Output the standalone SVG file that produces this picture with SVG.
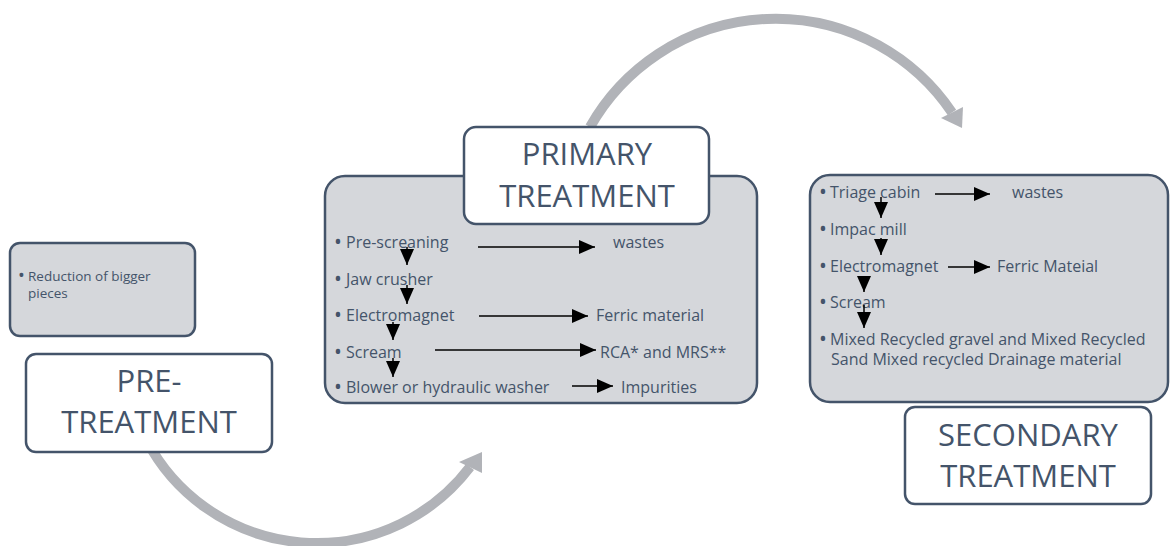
<svg xmlns="http://www.w3.org/2000/svg" width="1170" height="546" viewBox="0 0 1170 546">
<style>
.graybox{fill:#d5d7db;stroke:#44546a;stroke-width:2.5}
.titlebox{fill:#ffffff;stroke:#44546a;stroke-width:2.5}
.title{font-family:"Open Sans","Liberation Sans",sans-serif;font-size:31px;fill:#44546a;text-anchor:middle}
.body{font-family:"Open Sans","Liberation Sans",sans-serif;font-size:16px;fill:#44546a}
.small{font-family:"Open Sans","Liberation Sans",sans-serif;font-size:13.5px;fill:#44546a}
.b{font-size:21px}
.bs{font-size:18px}
.arc{fill:none;stroke:#b1b3b8;stroke-width:10}
.arrowhead{fill:#b1b3b8}
.flow{stroke:#000;stroke-width:1.5;fill:none;marker-end:url(#tri)}
</style>
<defs>
<marker id="tri" viewBox="0 0 16 14" refX="16" refY="7" markerWidth="16" markerHeight="14" markerUnits="userSpaceOnUse" orient="auto">
<path d="M0,0 L16,7 L0,14 z" fill="#000"/>
</marker>
</defs>
<g id="big-arrows">
<path class="arc" d="M146.4,440 A192.4,192.4 0 0 0 470,467"/>
<polygon class="arrowhead" points="482,452 459,462 482,473"/>
<path class="arc" d="M590,127 A213,213 0 0 1 952,112.5"/>
<polygon class="arrowhead" points="962,128 941,118 963,107"/>
</g>
<g id="pre-details">
<rect class="graybox" x="10" y="243" width="185" height="93" rx="10"/>
<text class="small" y="281"><tspan class="bs" x="18" dy="1">•</tspan><tspan x="28" dy="-1">Reduction of bigger</tspan><tspan x="28" dy="17">pieces</tspan></text>
</g>
<g id="pre-title">
<rect class="titlebox" x="26" y="354" width="246" height="98" rx="10"/>
<text class="title" x="149" y="392">PRE-</text>
<text class="title" x="149" y="433">TREATMENT</text>
</g>
<g id="primary-details">
<rect class="graybox" x="325" y="176" width="432" height="227" rx="20"/>
<text class="body" y="248"><tspan class="b" x="334" dy="1">•</tspan><tspan x="346" dy="-1">Pre-screaning</tspan></text>
<text class="body" y="285"><tspan class="b" x="334" dy="1">•</tspan><tspan x="346" dy="-1">Jaw crusher</tspan></text>
<text class="body" y="321"><tspan class="b" x="334" dy="1">•</tspan><tspan x="346" dy="-1">Electromagnet</tspan></text>
<text class="body" y="358"><tspan class="b" x="334" dy="1">•</tspan><tspan x="346" dy="-1">Scream</tspan></text>
<text class="body" y="393"><tspan class="b" x="334" dy="1">•</tspan><tspan x="346" dy="-1">Blower or hydraulic washer</tspan></text>
<text class="body" x="613" y="248">wastes</text>
<text class="body" x="596" y="321">Ferric material</text>
<text class="body" x="600" y="358">RCA* and MRS**</text>
<text class="body" x="621" y="393">Impurities</text>
</g>
<g id="primary-title">
<rect class="titlebox" x="464" y="127" width="245" height="97" rx="12"/>
<text class="title" x="587" y="165">PRIMARY</text>
<text class="title" x="587" y="207">TREATMENT</text>
</g>
<g id="secondary-details">
<rect class="graybox" x="810" y="175" width="358" height="227" rx="20"/>
<text class="body" y="198"><tspan class="b" x="819" dy="1">•</tspan><tspan x="830" dy="-1">Triage cabin</tspan></text>
<text class="body" y="235"><tspan class="b" x="819" dy="1">•</tspan><tspan x="830" dy="-1">Impac mill</tspan></text>
<text class="body" y="272"><tspan class="b" x="819" dy="1">•</tspan><tspan x="830" dy="-1">Electromagnet</tspan></text>
<text class="body" y="308"><tspan class="b" x="819" dy="1">•</tspan><tspan x="830" dy="-1">Scream</tspan></text>
<text class="body" y="345"><tspan class="b" x="819" dy="1">•</tspan><tspan x="830" dy="-1">Mixed Recycled gravel and Mixed Recycled</tspan><tspan x="831" dy="20">Sand Mixed recycled Drainage material</tspan></text>
<text class="body" x="1012" y="198">wastes</text>
<text class="body" x="997" y="272">Ferric Mateial</text>
</g>
<g id="secondary-title">
<rect class="titlebox" x="905" y="407" width="246" height="97" rx="10"/>
<text class="title" x="1028" y="446">SECONDARY</text>
<text class="title" x="1028" y="487">TREATMENT</text>
</g>
<g id="connectors">
<line class="flow" x1="407" y1="247" x2="407" y2="265"/>
<line class="flow" x1="407" y1="285" x2="407" y2="304"/>
<line class="flow" x1="393" y1="322" x2="393" y2="340"/>
<line class="flow" x1="393" y1="358" x2="393" y2="377"/>
<line class="flow" x1="478" y1="247" x2="595" y2="247"/>
<line class="flow" x1="479" y1="316" x2="588" y2="316"/>
<line class="flow" x1="435" y1="350" x2="596" y2="350"/>
<line class="flow" x1="572" y1="386" x2="613" y2="386"/>
<line class="flow" x1="881" y1="197" x2="881" y2="218"/>
<line class="flow" x1="881" y1="238" x2="881" y2="255"/>
<line class="flow" x1="864" y1="276" x2="864" y2="292"/>
<line class="flow" x1="864" y1="305" x2="864" y2="328"/>
<line class="flow" x1="935" y1="194" x2="990" y2="194"/>
<line class="flow" x1="948" y1="267" x2="990" y2="267"/>
</g>
</svg>
